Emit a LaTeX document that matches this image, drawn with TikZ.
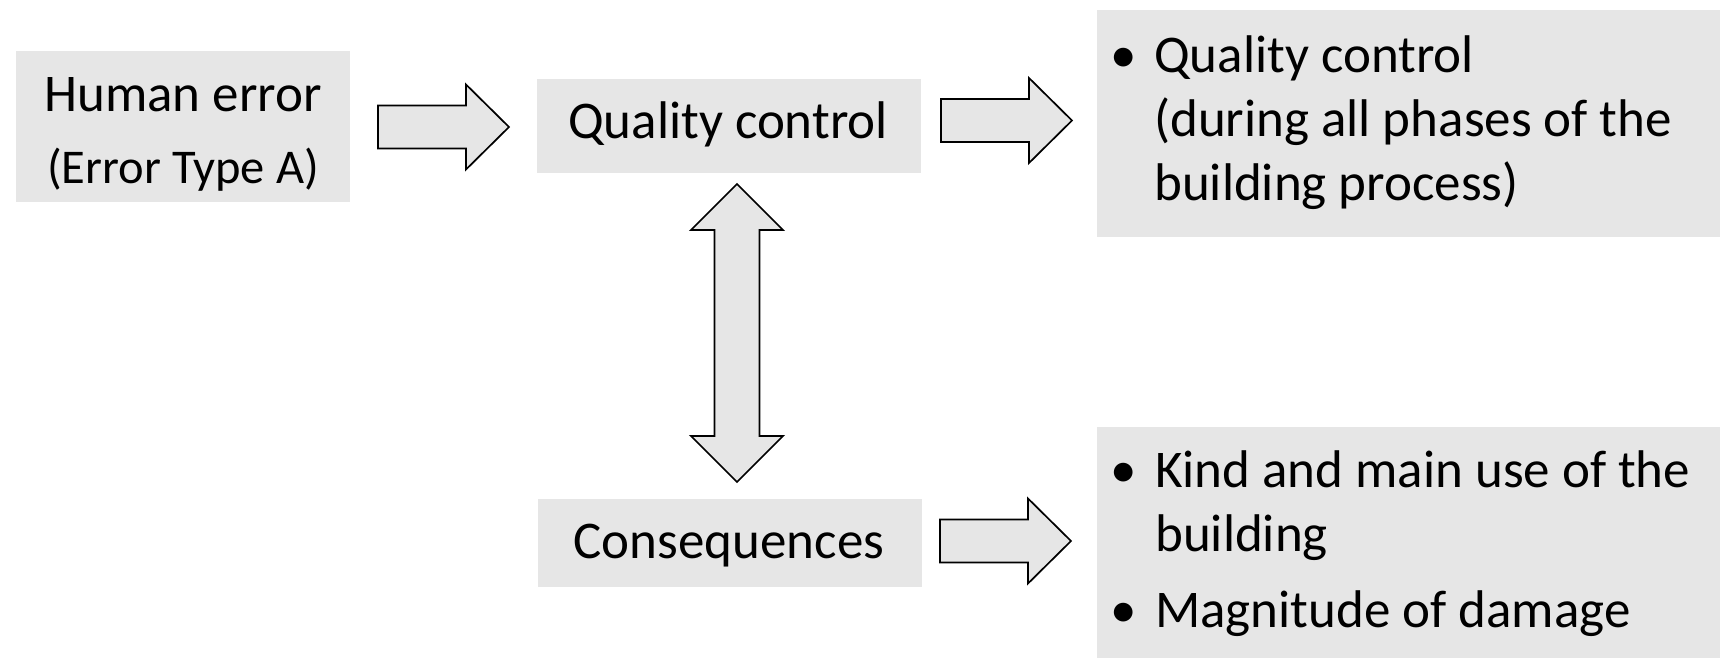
\documentclass[tikz,border=0pt]{standalone}
\usepackage{fontspec}
\setmainfont{Carlito}
\usetikzlibrary{calc}
\definecolor{boxgray}{RGB}{230,230,230}
\tikzset{
  box/.style={fill=boxgray, draw=none, inner sep=0pt, anchor=north west},
  lbl/.style={font=\fontsize{53}{63}\selectfont, inner sep=0pt, anchor=base},
  sublbl/.style={font=\fontsize{48.5}{58}\selectfont, inner sep=0pt, anchor=base},
  item/.style={font=\fontsize{53}{63}\selectfont, inner sep=0pt, anchor=base west},
  barrow/.style={fill=boxgray, draw=black, line width=1.7pt, line join=miter},
}
% right-pointing block arrow from #1 (tail centre) to #2 (tip)
\newcommand\blockarrowright[2]{%
  \draw[barrow] ($(#1)+(0,-21.5)$) -- ($(#2)+(-43,-21.5)$) -- ($(#2)+(-43,-42.5)$)
    -- (#2) -- ($(#2)+(-43,42.5)$) -- ($(#2)+(-43,21.5)$) -- ($(#1)+(0,21.5)$) -- cycle;}
\begin{document}
\begin{tikzpicture}[x=1pt, y=-1pt]
  \useasboundingbox (0,0) rectangle (1720,658);

  % boxes
  \node[box, minimum width=334pt, minimum height=151pt] (human) at (16,51) {};
  \node[box, minimum width=384pt, minimum height=94pt] (qc) at (537,79) {};
  \node[box, minimum width=623pt, minimum height=227pt] (qclist) at (1097,10) {};
  \node[box, minimum width=384pt, minimum height=88pt] (cons) at (538,499) {};
  \node[box, minimum width=623pt, minimum height=231pt] (conslist) at (1097,427) {};

  % box texts
  \node[lbl] (humanA) at (183,112) {Human error};
  \node[sublbl] (humanB) at (183,183) {(Error Type A)};
  \node[lbl] (qcT) at (728,139) {Quality control};
  \node[lbl] (consT) at (729,558) {Consequences};

  \node[item] (qb1) at (1110,73) {•};
  \node[item] (q1) at (1154,73) {Quality control};
  \node[item] (q2) at (1154,136) {(during all phases of the};
  \node[item] (q3) at (1154,200) {building process)};

  \node[item] (cb1) at (1110,487) {•};
  \node[item] (c1) at (1155,487) {Kind and main use of the};
  \node[item] (c2) at (1155,551) {building};
  \node[item] (cb2) at (1110,627) {•};
  \node[item] (c3) at (1155,627) {Magnitude of damage};

  % arrow end points
  \coordinate (a1s) at (378,127);   \coordinate (a1e) at (509,127);
  \coordinate (a2s) at (941,120.5); \coordinate (a2e) at (1072,120.5);
  \coordinate (a3s) at (940,541);   \coordinate (a3e) at (1071,541);
  \coordinate (dtop) at (737,184);  \coordinate (dbot) at (737,482);

  \blockarrowright{a1s}{a1e}
  \blockarrowright{a2s}{a2e}
  \blockarrowright{a3s}{a3e}

  % two-headed vertical arrow between the middle boxes
  \draw[barrow] (dtop) -- ($(dtop)+(46,46)$) -- ($(dtop)+(22.5,46)$)
    -- ($(dbot)+(22.5,-46)$) -- ($(dbot)+(46,-46)$) -- (dbot)
    -- ($(dbot)+(-46,-46)$) -- ($(dbot)+(-22.5,-46)$)
    -- ($(dtop)+(-22.5,46)$) -- ($(dtop)+(-46,46)$) -- cycle;
\end{tikzpicture}
\end{document}
